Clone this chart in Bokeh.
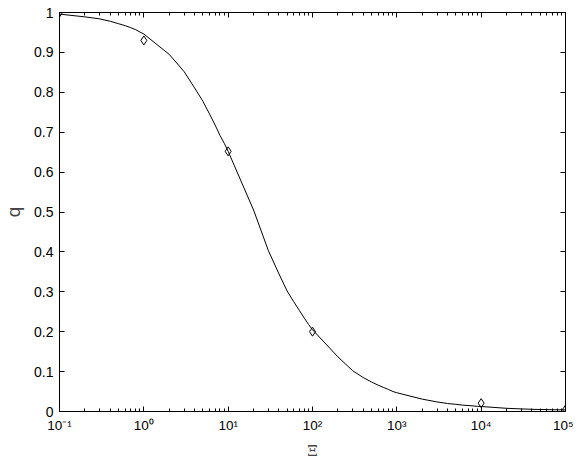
from bokeh.plotting import figure
from bokeh.models import (Range1d, FixedTicker, CustomJSTickFormatter, LinearAxis, LogAxis)
from bokeh.embed import file_html
from bokeh.resources import INLINE

# Measured data points (diamonds)
xi_points = [0.1, 1, 10, 100, 1e4, 1e5]
q_points = [1.0, 0.93, 0.652, 0.2, 0.021, 0.005]

# Curve at 1..9 x each decade
curve_xi = [0.1, 0.2, 0.3, 0.4, 0.5, 0.6, 0.7, 0.8, 0.9,
            1, 2, 3, 4, 5, 6, 7, 8, 9,
            10, 20, 30, 40, 50, 60, 70, 80, 90,
            100, 200, 300, 400, 500, 600, 700, 800, 900,
            1000, 2000, 3000, 4000, 5000, 6000, 7000, 8000, 9000,
            10000, 20000, 30000, 40000, 50000, 60000, 70000, 80000, 90000,
            100000]
curve_q = [0.996, 0.989, 0.984, 0.978, 0.972, 0.967, 0.962, 0.957, 0.951,
           0.946, 0.895, 0.852, 0.811, 0.778, 0.746, 0.718, 0.692, 0.672,
           0.652, 0.505, 0.403, 0.345, 0.302, 0.275, 0.253, 0.234, 0.218,
           0.205, 0.137, 0.102, 0.085, 0.074, 0.066, 0.060, 0.055, 0.050,
           0.047, 0.031, 0.024, 0.020, 0.018, 0.016, 0.015, 0.014, 0.013,
           0.0125, 0.008, 0.0065, 0.0055, 0.005, 0.0048, 0.0045, 0.0043, 0.0042,
           0.004]

x_major = [0.1, 1, 10, 100, 1000, 10000, 100000]
y_major = [0, 0.1, 0.2, 0.3, 0.4, 0.5, 0.6, 0.7, 0.8, 0.9, 1.0]
x_minor = [m * d for d in x_major[:-1] for m in range(2, 10)]

FONT = "Liberation Sans"

p = figure(x_axis_type="log", x_range=Range1d(0.1, 1e5), y_range=Range1d(0, 1),
           frame_width=506, frame_height=399,
           min_border_left=51, min_border_right=8, min_border_top=12, min_border_bottom=42,
           output_backend="svg", toolbar_location=None)
p.xgrid.visible = False
p.ygrid.visible = False
p.outline_line_color = "black"
p.background_fill_color = "white"
p.border_fill_color = "white"

xfmt = CustomJSTickFormatter(code="""
const e = Math.round(Math.log10(tick));
const sup = {"-":"\u207b","0":"\u2070","1":"\u00b9","2":"\u00b2","3":"\u00b3","4":"\u2074",
             "5":"\u2075","6":"\u2076","7":"\u2077","8":"\u2078","9":"\u2079"};
return "10" + String(e).split("").map(c => sup[c]).join("");
""")
yfmt = CustomJSTickFormatter(code="return tick.toFixed(1).replace(/\\.0$/, '');")
blank = CustomJSTickFormatter(code="return '';")

def style(ax, labels=True, size="13px"):
    ax.axis_line_color = "black"
    ax.major_tick_line_color = "black"
    ax.minor_tick_line_color = "black"
    ax.major_tick_in = 5
    ax.major_tick_out = 0
    ax.minor_tick_in = 3
    ax.minor_tick_out = 0
    ax.major_label_text_font = FONT
    ax.major_label_text_font_size = size
    ax.major_label_text_color = "black"
    if not labels:
        ax.major_label_text_font_size = "0px"
        ax.major_label_standoff = 0

xa = p.xaxis[0]
xa.ticker = FixedTicker(ticks=x_major, minor_ticks=x_minor)
xa.formatter = xfmt
style(xa, size="13.5px")
xa.major_label_standoff = 6
xa.axis_label = "Ξ"
xa.axis_label_text_font = "DejaVu Serif"
xa.axis_label_text_font_style = "normal"
xa.axis_label_text_font_size = "15px"
xa.axis_label_standoff = 6

ya = p.yaxis[0]
ya.ticker = FixedTicker(ticks=y_major, minor_ticks=[])
ya.formatter = yfmt
style(ya, size="14px")
ya.major_label_standoff = 6
ya.axis_label = "q"
ya.axis_label_text_font = FONT
ya.axis_label_text_font_style = "normal"
ya.axis_label_text_font_size = "19px"
ya.axis_label_standoff = 7

top = LogAxis(ticker=FixedTicker(ticks=x_major, minor_ticks=x_minor), formatter=blank)
style(top, labels=False)
p.add_layout(top, "above")
right = LinearAxis(ticker=FixedTicker(ticks=y_major, minor_ticks=[]), formatter=blank)
style(right, labels=False)
p.add_layout(right, "right")

p.line(curve_xi, curve_q, line_color="black", line_width=1)
p.scatter(xi_points, q_points, marker="diamond", size=9, fill_color=None,
          line_color="black", line_width=1)

open("out.html", "w").write(file_html(p, INLINE))
